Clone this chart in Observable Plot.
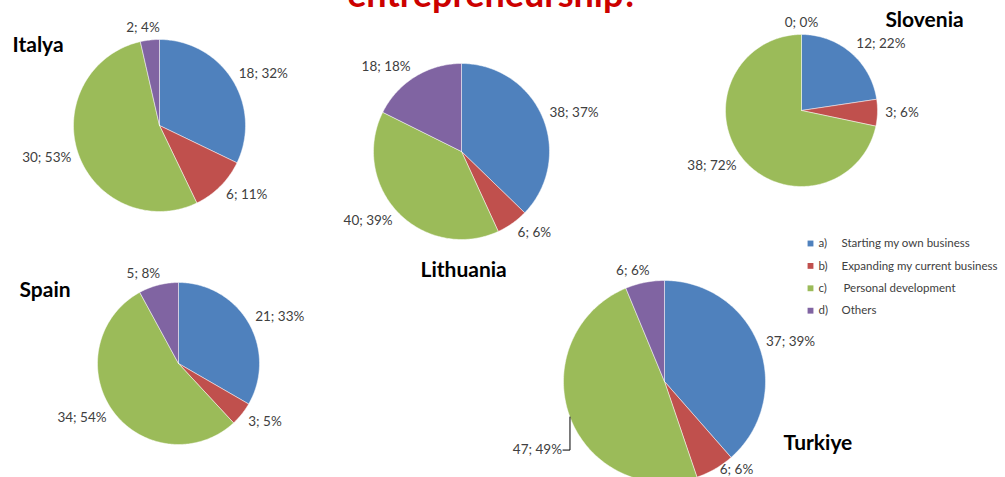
<!DOCTYPE html>
<html>
<head>
<meta charset="utf-8">
<script src="https://cdn.jsdelivr.net/npm/d3@7"></script>
<script src="https://cdn.jsdelivr.net/npm/@observablehq/plot@0.6"></script>
<style>
  html, body { margin: 0; padding: 0; background: #fff; overflow: hidden; }
  #chart svg { display: block; }
</style>
</head>
<body>
<div id="chart"></div>
<script>
// ---- data ----
const countries = ["Italya", "Lithuania", "Slovenia", "Spain", "Turkiye"];
const categories = ["a)", "b)", "c)", "d)"];
const categoryNames = ["Starting my own business", "Expanding my current business", "Personal development", "Others"];
const startingOwn      = [18, 38, 12, 21, 37];
const expandingCurrent = [6, 6, 3, 3, 6];
const personalDev      = [30, 40, 38, 34, 47];
const others           = [2, 18, 0, 5, 6];
const pctStarting  = [32, 37, 22, 33, 39];
const pctExpanding = [11, 6, 6, 5, 6];
const pctPersonal  = [53, 39, 72, 54, 49];
const pctOthers    = [4, 18, 0, 8, 6];
const titleText = "entrepreneurship?";

// ---- layout / style ----
const colors = ["#4F81BD", "#C0504D", "#9BBB59", "#8064A2"];
const pieCX = [159, 461, 801, 178, 664];
const pieCY = [125, 151, 110, 363, 381];
const pieR  = [86, 88, 76, 81, 101];
const nameX = [12, 420, 885, 19, 783];
const nameBaseline = [51, 276, 26, 296, 449];
const leaderLabels = [{country: "Turkiye", cat: 2}];
const W = 1005, H = 477;
const labelSize = 13.5, charW = 7.4;

const values = [startingOwn, expandingCurrent, personalDev, others];
const pcts = [pctStarting, pctExpanding, pctPersonal, pctOthers];

const polys = [], labels = [], leaderText = [], leaderLines = [];
countries.forEach((country, i) => {
  const cx = pieCX[i], cy = pieCY[i], r = pieR[i];
  const vals = values.map(v => v[i]);
  const arcs = d3.pie().sort(null).value(d => d)(vals);
  arcs.forEach((a, k) => {
    const key = country + "|" + k;
    const cat = categories[k];
    const span = a.endAngle - a.startAngle;
    if (span > 0) {
      polys.push({key, cat, x: cx, y: cy});
      const n = Math.max(2, Math.ceil(span / (Math.PI / 180)));
      for (let j = 0; j <= n; j++) {
        const t = a.startAngle + span * j / n;
        polys.push({key, cat, x: cx + r * Math.sin(t), y: cy - r * Math.cos(t)});
      }
      polys.push({key, cat, x: cx, y: cy});
    }
    const mid = (a.startAngle + a.endAngle) / 2;
    const s = Math.sin(mid), c = Math.cos(mid);
    const text = `${vals[k]}; ${pcts[k][i]}%`;
    const isLeader = leaderLabels.some(l => l.country === country && l.cat === k);
    if (isLeader) {
      const ex = cx + r * s, ey = cy - r * c;
      leaderLines.push({key, x: ex, y: ey});
      leaderLines.push({key, x: ex, y: ey + 33});
      leaderLines.push({key, x: ex - 7, y: ey + 33});
      leaderText.push({text, x: ex - 8, y: ey + 33});
    } else {
      const gap = 6;
      const w = text.length * charW, h = 12;
      const px = cx + (r + gap) * s, py = cy - (r + gap) * c;
      const f = Math.max(-1, Math.min(1, 3 * s));
      labels.push({text, x: px + f * w / 2, y: Math.min(H - 8, py - c * h / 2)});
    }
  });
});

const names = countries.map((c, i) => ({name: c, x: nameX[i], y: nameBaseline[i]}));
const legendRows = categories.map((c, k) => ({cat: c, name: categoryNames[k], row: k}));
const legendX = 810, legendY0 = 243, legendStep = 22.4;

const plot = Plot.plot({
  width: W, height: H,
  margin: 0,
  x: {domain: [0, W], range: [0, W], axis: null},
  y: {domain: [0, H], range: [0, H], axis: null},
  color: {domain: categories, range: colors},
  style: {fontFamily: "Lato, 'Open Sans', sans-serif", background: "white"},
  marks: [
    Plot.line(polys, {x: "x", y: "y", z: "key", fill: "cat", stroke: "white", strokeWidth: 0.6, strokeOpacity: 0.8, curve: "linear"}),
    Plot.line(leaderLines, {x: "x", y: "y", z: "key", stroke: "#000", strokeWidth: 1}),
    Plot.text(labels, {x: "x", y: "y", text: "text", fontSize: labelSize, fill: "#404040", textAnchor: "middle", lineAnchor: "middle"}),
    Plot.text(leaderText, {x: "x", y: "y", text: "text", fontSize: labelSize, fill: "#404040", textAnchor: "end", lineAnchor: "middle"}),
    Plot.text(names, {x: "x", y: "y", text: "name", fontSize: 21, fontWeight: "bold", fill: "#000", textAnchor: "start", lineAnchor: "bottom"}),
    Plot.dot(legendRows, {x: () => legendX, y: d => legendY0 + d.row * legendStep, symbol: "square", r: 3.3, fill: "cat"}),
    Plot.text(legendRows, {x: () => legendX + 8, y: d => legendY0 + d.row * legendStep, text: "cat", fontSize: 11.5, fill: "#404040", textAnchor: "start", lineAnchor: "middle"}),
    Plot.text(legendRows, {x: d => legendX + (d.row === 2 ? 33 : 31), y: d => legendY0 + d.row * legendStep, text: "name", fontSize: 11.5, fill: "#404040", textAnchor: "start", lineAnchor: "middle"}),
    Plot.text([titleText], {frameAnchor: "top", dx: -10, dy: 6, text: d => d, fontSize: 36, fontWeight: "bold", fill: "#CC0000", lineAnchor: "bottom"})
  ]
});
document.getElementById("chart").appendChild(plot);
</script>
</body>
</html>
